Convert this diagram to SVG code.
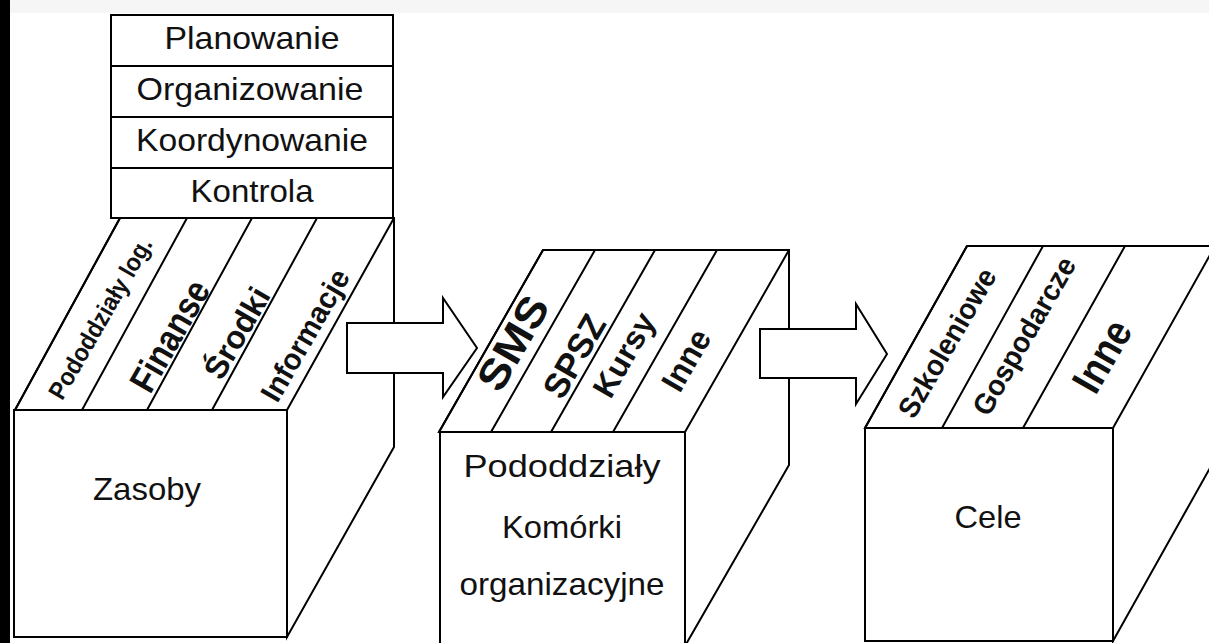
<svg xmlns="http://www.w3.org/2000/svg" width="1209" height="643" viewBox="0 0 1209 643">
  <style>
    .ln { fill: none; stroke: #000; stroke-width: 2; stroke-linejoin: miter; }
    .face { fill: #fff; stroke: #000; stroke-width: 2; }
    .lbl { font-family: "Liberation Sans", Arial, sans-serif; font-size: 32px; fill: #111; text-anchor: middle; }
    .tag { font-family: "Liberation Sans", Arial, sans-serif; font-weight: bold; fill: #111; text-anchor: middle; dominant-baseline: central; }
  </style>

  <!-- page -->
  <rect x="0" y="0" width="1209" height="643" fill="#fff"/>
  <rect x="0" y="0" width="1209" height="13" fill="#f6f6f6"/>
  <rect x="0" y="0" width="10" height="643" fill="#000"/>

  <!-- management functions stacked above the first block -->
  <g id="functions">
    <rect class="face" x="111" y="15" width="282" height="51"/>
    <rect class="face" x="111" y="66" width="282" height="51"/>
    <rect class="face" x="111" y="117" width="282" height="51"/>
    <rect class="face" x="111" y="168" width="282" height="50"/>
    <text class="lbl" x="252" y="49" textLength="175" lengthAdjust="spacingAndGlyphs">Planowanie</text>
    <text class="lbl" x="250" y="100" textLength="227" lengthAdjust="spacingAndGlyphs">Organizowanie</text>
    <text class="lbl" x="252" y="151" textLength="232" lengthAdjust="spacingAndGlyphs">Koordynowanie</text>
    <text class="lbl" x="252" y="202" textLength="123" lengthAdjust="spacingAndGlyphs">Kontrola</text>
  </g>

  <!-- block 1: resources -->
  <g id="zasoby">
    <polygon class="face" points="120,218 394,218 394,447 287,637 287,410 15,410"/>
    <rect class="face" x="14" y="410" width="273" height="227"/>
    <path class="ln" d="M120,218 L15,410 M187,218 L82,410 M252,218 L147,410 M317,218 L212,410 M394,218 L287,410"/>
    <text class="tag" transform="translate(100,318) rotate(-60)" font-size="25" textLength="182" lengthAdjust="spacingAndGlyphs">Pododdziały log.</text>
    <text class="tag" transform="translate(170,336) rotate(-60)" font-size="37" textLength="122" lengthAdjust="spacingAndGlyphs">Finanse</text>
    <text class="tag" transform="translate(237,333) rotate(-60)" font-size="32" textLength="100" lengthAdjust="spacingAndGlyphs">Środki</text>
    <text class="tag" transform="translate(305,335) rotate(-60)" font-size="30" textLength="147" lengthAdjust="spacingAndGlyphs">Informacje</text>
    <text class="lbl" x="147" y="500" textLength="108" lengthAdjust="spacingAndGlyphs">Zasoby</text>
  </g>

  <!-- block 2: units -->
  <g id="pododdzialy">
    <polygon class="face" points="543,250 789,250 789,465 685,646 685,432 439,432"/>
    <rect class="face" x="440" y="432" width="245" height="216"/>
    <path class="ln" d="M543,250 L439,432 M595,250 L491,432 M655,250 L551,432 M717,250 L613,432 M789,250 L685,432"/>
    <text class="tag" transform="translate(513,343) rotate(-60)" font-size="42" textLength="102" lengthAdjust="spacingAndGlyphs">SMS</text>
    <text class="tag" transform="translate(574,356) rotate(-60)" font-size="35" textLength="90" lengthAdjust="spacingAndGlyphs">SPSZ</text>
    <text class="tag" transform="translate(624,355) rotate(-60)" font-size="32" textLength="92" lengthAdjust="spacingAndGlyphs">Kursy</text>
    <text class="tag" transform="translate(686,360) rotate(-60)" font-size="33" textLength="65" lengthAdjust="spacingAndGlyphs">Inne</text>
    <text class="lbl" x="562" y="477" textLength="197" lengthAdjust="spacingAndGlyphs">Pododdziały</text>
    <text class="lbl" x="562" y="538" textLength="120" lengthAdjust="spacingAndGlyphs">Komórki</text>
    <text class="lbl" x="562" y="595" textLength="205" lengthAdjust="spacingAndGlyphs">organizacyjne</text>
  </g>

  <!-- block 3: goals -->
  <g id="cele">
    <polygon class="face" points="967,246 1215,246 1215,459 1113,641 1113,428 865,428"/>
    <rect class="face" x="865" y="428" width="248" height="213"/>
    <path class="ln" d="M967,246 L865,428 M1043,246 L942,428 M1125,246 L1023,428 M1215,246 L1113,428"/>
    <text class="tag" transform="translate(947,343) rotate(-60)" font-size="29" textLength="167" lengthAdjust="spacingAndGlyphs">Szkoleniowe</text>
    <text class="tag" transform="translate(1024,336) rotate(-60)" font-size="29" textLength="177" lengthAdjust="spacingAndGlyphs">Gospodarcze</text>
    <text class="tag" transform="translate(1102,356) rotate(-60)" font-size="42" textLength="76" lengthAdjust="spacingAndGlyphs">Inne</text>
    <text class="lbl" x="988" y="528" textLength="67" lengthAdjust="spacingAndGlyphs">Cele</text>
  </g>

  <!-- block arrows between the stages -->
  <g id="connectors">
    <polygon class="face" points="347,323 443,323 443,298 477,348 443,397 443,373 347,373"/>
    <polygon class="face" points="760,329 856,329 856,304 887,354 856,404 856,378 760,378"/>
  </g>
</svg>
